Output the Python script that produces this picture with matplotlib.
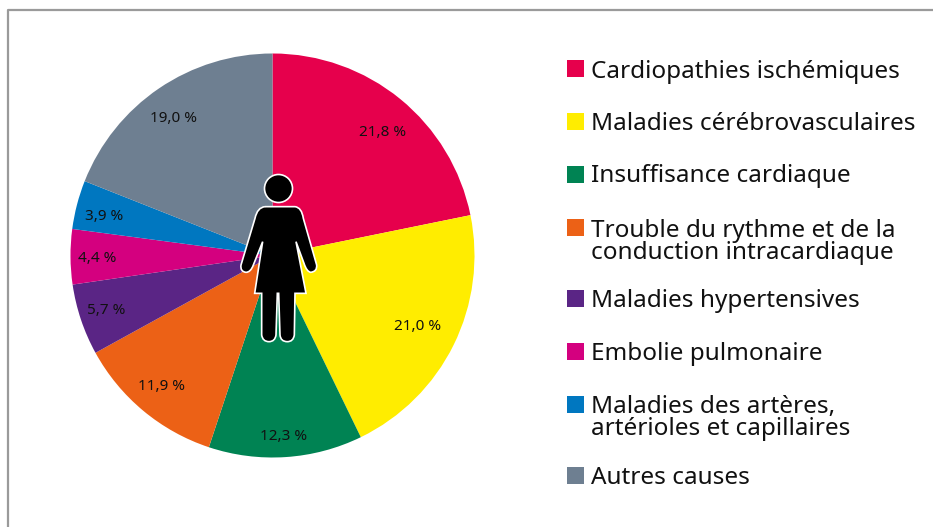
import matplotlib
matplotlib.use('Agg')
import matplotlib.pyplot as plt
from matplotlib.patches import Rectangle, Circle, PathPatch
from matplotlib.path import Path

plt.rcParams['font.family'] = ['Noto Sans', 'DejaVu Sans']

values = [21.8, 21.0, 12.3, 11.9, 5.7, 4.4, 3.9, 19.0]
value_labels = ['21,8 %', '21,0 %', '12,3 %', '11,9 %', '5,7 %', '4,4 %', '3,9 %', '19,0 %']
colors = ['#E6004C', '#FFED00', '#008353', '#EC6116', '#5A2585', '#D4007F', '#0077C0', '#6E7F91']
names = ['Cardiopathies ischémiques', 'Maladies cérébrovasculaires', 'Insuffisance cardiaque',
         'Trouble du rythme et de la\nconduction intracardiaque', 'Maladies hypertensives',
         'Embolie pulmonaire', 'Maladies des artères,\nartérioles et capillaires', 'Autres causes']
legend_y = [71.5, 124.5, 176.5, 242, 301, 354, 418, 478]
square_y = [68, 121, 174, 227, 298, 351, 404, 475]

H = 527
fig = plt.figure(figsize=(9.33, 5.27), dpi=100)
ax = fig.add_axes([0, 0, 1, 1])

# frame
ax.plot([7.5, 7.5, 933], [0, H - 9.5, H - 9.5], color='#9A9A9A', lw=1.6)

wedges, texts = ax.pie(values, colors=colors, startangle=90, counterclock=False,
                       center=(272.5, H - 255.5), radius=202, frame=True)
ax.set_xlim(0, 933)
ax.set_ylim(0, H)
ax.set_aspect('auto')
ax.axis('off')

# pixel positions of the value labels
label_xy = [(383, 132), (418, 326), (284, 437), (161, 387), (106, 310), (97, 258), (104, 216), (173, 119)]
for lab, (x, y) in zip(value_labels, label_xy):
    ax.text(x, H - y, lab, ha='center', va='center', fontsize=11, color='#111111')

# woman icon, traced in pixels
def z(x, y):
    return (220 + x / 3, H - (160 + y / 3))

M, L, C = Path.MOVETO, Path.LINETO, Path.CURVE3
steps = [(M, 135, 140), (L, 225, 140),
         (C, 245, 142), (C, 250, 175),
         (L, 290, 315), (C, 292, 335), (C, 272, 337), (C, 260, 335), (C, 252, 310),
         (L, 228, 245), (L, 258, 400), (L, 225, 400),
         (L, 223, 525), (C, 220, 545), (C, 202, 545), (C, 182, 545), (C, 180, 525),
         (L, 176, 400), (L, 172, 400),
         (L, 168, 525), (C, 165, 545), (C, 147, 545), (C, 128, 545), (C, 125, 525),
         (L, 125, 400), (L, 104, 400), (L, 128, 245),
         (L, 100, 315), (C, 92, 337), (C, 78, 337), (C, 60, 335), (C, 63, 315),
         (L, 105, 175), (C, 112, 142), (C, 135, 140)]
codes = [s[0] for s in steps]
verts = [z(s[1], s[2]) for s in steps]
ax.add_patch(PathPatch(Path(verts, codes), fc='black', ec='white', lw=1.2, zorder=5))
ax.add_patch(Circle((278.5, H - 188.5), 14, fc='black', ec='white', lw=1.2, zorder=5))

# legend
for name, y, sy, c in zip(names, legend_y, square_y, colors):
    ax.add_patch(Rectangle((567, H - sy - 8.5), 17, 17, fc=c, ec='none'))
    ax.text(591, H - y, name, ha='left', va='center', fontsize=17.5, color='#111111', linespacing=0.85)

fig.savefig('out.png', dpi=100)
